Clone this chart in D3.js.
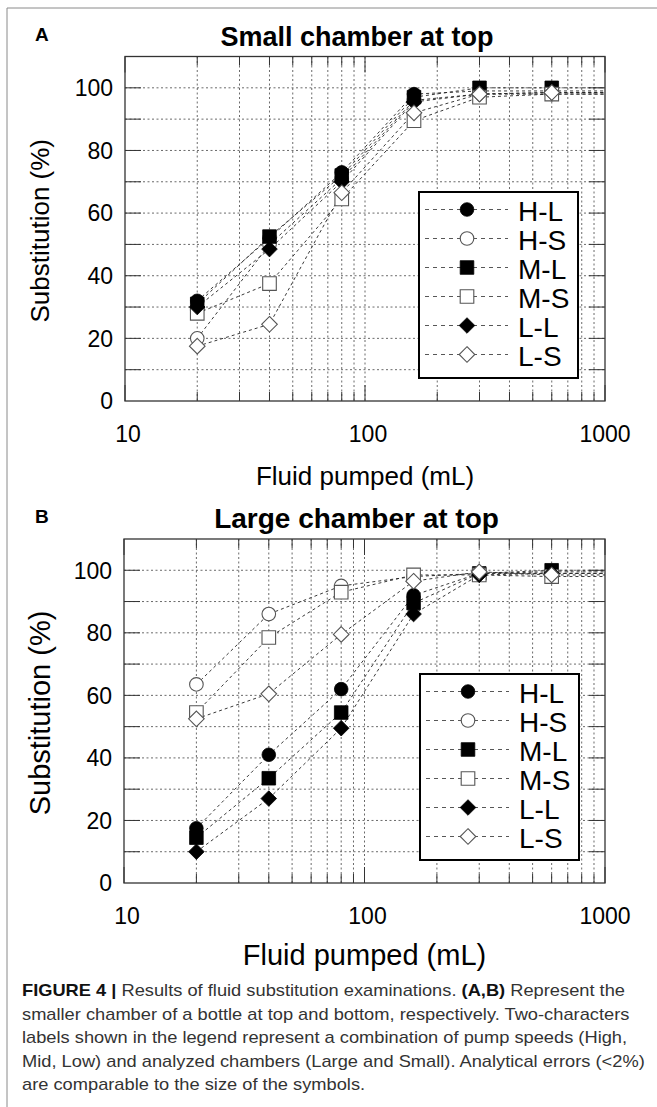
<!DOCTYPE html>
<html>
<head>
<meta charset="utf-8">
<script src="https://cdnjs.cloudflare.com/ajax/libs/d3/7.8.5/d3.min.js"></script>
<style>
  body { margin: 0; background: #fff; }
  text { font-family: "Liberation Sans", Arial, sans-serif; }
</style>
</head>
<body>
<script>
// Data
var pumped = [20, 40, 80, 160, 300, 600];
var seriesNames = ["H-L", "H-S", "M-L", "M-S", "L-L", "L-S"];
var yTicks = [0, 20, 40, 60, 80, 100];
var xTickLabels = [10, 100, 1000];

// A: small chamber at top
var smallHL = [32, 52, 73, 98, 99, 99];
var smallHS = [20, 50, 71, 96, 98, 98];
var smallML = [31, 52.5, 72, 97, 100, 100];
var smallMS = [28, 37.5, 64.5, 89.5, 97, 98];
var smallLL = [30, 48.5, 70, 95.5, 98, 98.5];
var smallLS = [17.5, 24.5, 66.5, 92, 98, 98.5];

// B: large chamber at top
var largeHL = [17.5, 41, 62, 92, 99, 99.5];
var largeHS = [63.5, 86, 95, 98, 99, 99];
var largeML = [14.5, 33.5, 54.5, 89.5, 99, 100];
var largeMS = [54.5, 78.5, 93, 98.5, 98.5, 98];
var largeLL = [10, 27, 49.5, 86, 98.5, 99];
var largeLS = [52.5, 60.5, 79.5, 96.5, 99.5, 98.5];

var symbolType = ["circle", "circle", "square", "square", "diamond", "diamond"];
var symbolFilled = [true, false, true, false, true, false];

var width = 657, height = 1107;

var svg = d3.select("body")
    .append("svg")
        .attr("width", width)
        .attr("height", height);

// frame: top rule and left rule only
svg.append("line")
    .attr("x1", 7).attr("x2", width)
    .attr("y1", 8).attr("y2", 8)
    .style("stroke", "#8a8a8a");
svg.append("line")
    .attr("x1", 7).attr("x2", 7)
    .attr("y1", 8).attr("y2", height)
    .style("stroke", "#8a8a8a");

function symbolPath(type, cx, cy) {
    if (type == "circle") {
        var r = 6.8;
        return "M" + (cx - r) + "," + cy + "a" + r + "," + r + " 0 1,0 " + (2 * r) + ",0" +
               "a" + r + "," + r + " 0 1,0 " + (-2 * r) + ",0Z";
    }
    if (type == "square") {
        var h = 6.8;
        return "M" + (cx - h) + "," + (cy - h) + "h" + (2 * h) + "v" + (2 * h) + "h" + (-2 * h) + "Z";
    }
    var d = 7.8;
    return "M" + cx + "," + (cy - d) + "L" + (cx + d) + "," + cy + "L" + cx + "," + (cy + d) + "L" + (cx - d) + "," + cy + "Z";
}

function drawSymbol(g, i, cx, cy) {
    g.append("path")
        .attr("d", symbolPath(symbolType[i], cx, cy))
        .style("fill", symbolFilled[i] ? "#000" : "#fff")
        .style("stroke", symbolFilled[i] ? "#000" : "#555")
        .style("stroke-width", symbolFilled[i] ? 0.8 : 1.1);
}

function drawPanel(opt) {
    var x = d3.scaleLog().domain([10, 1000]).range([opt.left, opt.right]);
    var y = d3.scaleLinear().domain([0, 110]).range([opt.bottom, opt.top]);
    var g = svg.append("g");

    // letter + title
    g.append("text")
        .text(opt.letter)
        .attr("x", 35).attr("y", opt.top - 16)
        .attr("font-size", "19px")
        .style("font-weight", "bold");
    g.append("text")
        .text(opt.title)
        .attr("x", (opt.left + opt.right) / 2 - 8)
        .attr("y", opt.top - 11)
        .attr("text-anchor", "middle")
        .attr("font-size", opt.titleSize + "px")
        .style("font-weight", "bold");

    // grid
    var xMinor = x.ticks().filter(function(d) { return d > 10 && d < 1000; });
    var yGrid = d3.range(10, 110, 10);
    g.selectAll(".vgrid").data(xMinor).enter().append("line")
        .attr("x1", x).attr("x2", x)
        .attr("y1", opt.top).attr("y2", opt.bottom)
        .style("stroke", "#444").style("stroke-width", 0.8)
        .style("stroke-dasharray", "2,2.5");
    g.selectAll(".hgrid").data(yGrid).enter().append("line")
        .attr("x1", opt.left).attr("x2", opt.right)
        .attr("y1", y).attr("y2", y)
        .style("stroke", "#444").style("stroke-width", 0.8)
        .style("stroke-dasharray", "2,2.5");

    // tick marks (inside, all four sides)
    var tk = g.append("g").style("stroke", "#333").style("stroke-width", 1);
    yGrid.forEach(function(v) {
        tk.append("line").attr("x1", opt.left).attr("x2", opt.left + 16).attr("y1", y(v)).attr("y2", y(v));
        tk.append("line").attr("x1", opt.right).attr("x2", opt.right - 16).attr("y1", y(v)).attr("y2", y(v));
    });
    x.ticks().forEach(function(v) {
        var len = (xTickLabels.indexOf(v) >= 0) ? 16 : 9;
        tk.append("line").attr("x1", x(v)).attr("x2", x(v)).attr("y1", opt.bottom).attr("y2", opt.bottom - len);
        tk.append("line").attr("x1", x(v)).attr("x2", x(v)).attr("y1", opt.top).attr("y2", opt.top + len);
    });

    // frame
    g.append("rect")
        .attr("x", opt.left).attr("y", opt.top)
        .attr("width", opt.right - opt.left).attr("height", opt.bottom - opt.top)
        .style("fill", "none").style("stroke", "#333").style("stroke-width", 1.3);

    // tick labels
    g.selectAll(".ylab").data(yTicks).enter().append("text")
        .text(function(d) { return d; })
        .attr("x", opt.left - 12)
        .attr("y", function(d) { return y(d); })
        .attr("dy", "0.36em")
        .attr("text-anchor", "end")
        .attr("font-size", "23px");
    g.selectAll(".xlab").data(xTickLabels).enter().append("text")
        .text(function(d) { return d; })
        .attr("x", function(d) { return x(d) + (d == 1000 ? 0 : 3); })
        .attr("y", opt.bottom + 41)
        .attr("text-anchor", "middle")
        .attr("font-size", "23px");

    // axis titles
    g.append("text")
        .text("Fluid pumped (mL)")
        .attr("x", (opt.left + opt.right) / 2)
        .attr("y", opt.bottom + opt.xTitleDy)
        .attr("text-anchor", "middle")
        .attr("font-size", opt.axisSize + "px");
    g.append("text")
        .text("Substitution (%)")
        .attr("transform", "translate(" + 40 + "," + ((opt.top + opt.bottom) / 2 + 2) + ") rotate(-90)")
        .attr("dy", "0.36em")
        .attr("text-anchor", "middle")
        .attr("font-size", opt.axisSize + "px");

    // series lines, carried on to the right edge
    var line = d3.line()
        .x(function(d) { return x(d[0]); })
        .y(function(d) { return y(d[1]); });
    var lineG = g.append("g");
    opt.series.forEach(function(vals) {
        var pts = pumped.map(function(p, j) { return [p, vals[j]]; });
        pts.push([x.domain()[1], vals[vals.length - 1]]);
        lineG.append("path")
            .attr("d", line(pts))
            .style("fill", "none")
            .style("stroke", "#222")
            .style("stroke-width", 0.9)
            .style("stroke-dasharray", "3,3");
    });

    // markers
    var markG = g.append("g");
    opt.series.forEach(function(vals, i) {
        vals.forEach(function(v, j) {
            drawSymbol(markG, i, x(pumped[j]), y(v));
        });
    });

    // legend
    var lg = g.append("g");
    lg.append("rect")
        .attr("x", opt.legX).attr("y", opt.legY)
        .attr("width", 159).attr("height", 186)
        .style("fill", "#fff").style("stroke", "#000").style("stroke-width", 2);
    seriesNames.forEach(function(name, i) {
        var cy = opt.legY + 17.5 + i * 29;
        lg.append("line")
            .attr("x1", opt.legX + 6).attr("x2", opt.legX + 89)
            .attr("y1", cy).attr("y2", cy)
            .style("stroke", "#444").style("stroke-width", 0.9)
            .style("stroke-dasharray", "4,4");
        drawSymbol(lg, i, opt.legX + 48, cy);
        lg.append("text")
            .text(name)
            .attr("x", opt.legX + 99)
            .attr("y", cy + 11)
            .attr("font-size", "28px");
    });
}

drawPanel({
    letter: "A", title: "Small chamber at top", titleSize: 27,
    left: 125, right: 605, top: 56.5, bottom: 401,
    axisSize: 26, xTitleDy: 84,
    legX: 419, legY: 192,
    series: [smallHL, smallHS, smallML, smallMS, smallLL, smallLS]
});

drawPanel({
    letter: "B", title: "Large chamber at top", titleSize: 28,
    left: 124, right: 605, top: 539, bottom: 883,
    axisSize: 29, xTitleDy: 82,
    legX: 420, legY: 674,
    series: [largeHL, largeHS, largeML, largeMS, largeLL, largeLS]
});

// caption
var captionLines = [
    [["FIGURE 4 | ", true], ["Results of fluid substitution examinations. ", false], ["(A,B)", true], [" Represent the", false]],
    [["smaller chamber of a bottle at top and bottom, respectively. Two-characters", false]],
    [["labels shown in the legend represent a combination of pump speeds (High,", false]],
    [["Mid, Low) and analyzed chambers (Large and Small). Analytical errors (<2%)", false]],
    [["are comparable to the size of the symbols.", false]]
];
var capTarget = 603;
var cap = svg.append("g");
captionLines.forEach(function(parts, i) {
    var t = cap.append("text")
        .attr("x", 22)
        .attr("y", 996 + i * 23.6)
        .attr("font-size", "17px")
        .style("fill", "#333");
    parts.forEach(function(p) {
        t.append("tspan").text(p[0])
            .style("font-weight", p[1] ? "bold" : "normal")
            .style("fill", p[1] ? "#111" : "#333");
    });
});
// condense the caption to the reference's narrower face
var first = cap.select("text").node().getComputedTextLength();
var k = capTarget / first;
cap.selectAll("text").each(function() {
    var w = this.getComputedTextLength();
    d3.select(this).attr("textLength", w * k).attr("lengthAdjust", "spacingAndGlyphs");
});
</script>
</body>
</html>
